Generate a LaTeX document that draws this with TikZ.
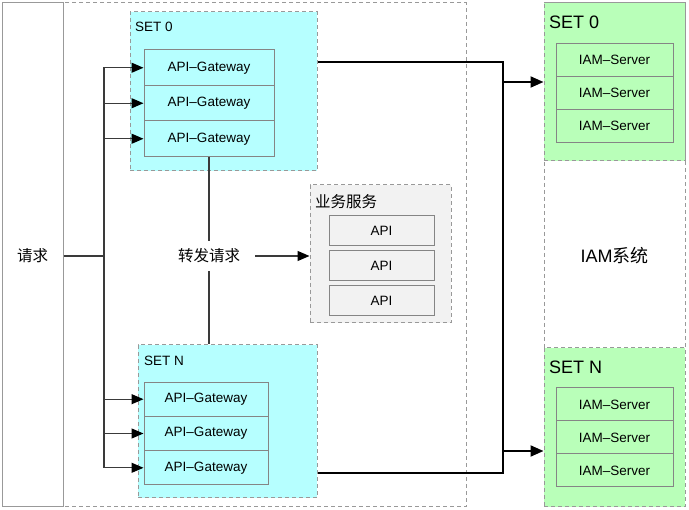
\documentclass[tikz,border=0pt]{standalone}
\usepackage{fontspec}
\setmainfont{Liberation Sans}
\newfontfamily\cjk{Noto Sans CJK SC}
\usetikzlibrary{arrows.meta}
\definecolor{cyanfill}{HTML}{B6FFFF}
\definecolor{greenfill}{HTML}{B9FFB9}
\definecolor{grayfill}{HTML}{F2F2F2}
\definecolor{dashgray}{HTML}{999999}
\definecolor{boxgray}{HTML}{858585}
\definecolor{linegray}{HTML}{3A3A3A}
\tikzset{
  dashbox/.style={draw=dashgray, line width=1pt, dash pattern=on 4pt off 3pt, inner sep=0pt},
  itembox/.style={draw=boxgray, line width=1pt, inner sep=0pt, font=\fontsize{13.5}{15}\selectfont},
  setlabel/.style={anchor=west, inner sep=0pt, font=\fontsize{13.5}{15}\selectfont},
  biglabel/.style={anchor=west, inner sep=0pt, font=\fontsize{18}{20}\selectfont},
  cjklabel/.style={inner sep=2pt, font=\fontsize{15.5}{17}\selectfont\cjk},
  gline/.style={draw=linegray, line width=1.2pt},
  garrow/.style={gline, -{Triangle[length=12pt,width=10pt,fill=black,color=black]}},
  bline/.style={draw=black, line width=2pt},
  barrow/.style={bline, -{Triangle[length=13pt,width=11pt]}},
}
\begin{document}
\begin{tikzpicture}[x=1pt,y=-1pt]
\useasboundingbox (0,0) rectangle (689,510);
% outer frame
\node[dashbox, minimum width=464pt, minimum height=504pt] (outer) at (234,255) {};
% request box
\node[draw=dashgray, line width=1pt, inner sep=0pt, minimum width=61pt, minimum height=504pt] (req) at (32.5,255) {};
\node[cjklabel] (reqtxt) at (32.5,256) {请求};
% SET 0 gateways
\node[dashbox, fill=cyanfill, minimum width=187pt, minimum height=159pt] (set0) at (223.5,91.5) {};
\node[setlabel] (set0lbl) at (135,27) {SET 0};
\node[itembox, minimum width=130pt, minimum height=35.5pt] (g01) at (209,67.75) {API–Gateway};
\node[itembox, minimum width=130pt, minimum height=35.5pt] (g02) at (209,103.25) {API–Gateway};
\node[itembox, minimum width=130pt, minimum height=35.5pt] (g03) at (209,138.75) {API–Gateway};
% SET N gateways
\node[dashbox, fill=cyanfill, minimum width=179pt, minimum height=153pt] (setn) at (227.5,421.5) {};
\node[setlabel] (setnlbl) at (144,361) {SET N};
\node[itembox, minimum width=124pt, minimum height=34.3pt] (gn1) at (206,399.2) {API–Gateway};
\node[itembox, minimum width=124pt, minimum height=34.3pt] (gn2) at (206,433.5) {API–Gateway};
\node[itembox, minimum width=124pt, minimum height=34.3pt] (gn3) at (206,467.8) {API–Gateway};
% business services
\node[dashbox, fill=grayfill, minimum width=141pt, minimum height=138pt] (biz) at (380.5,254) {};
\node[anchor=west, inner sep=0pt, font=\fontsize{15.5}{17}\selectfont\cjk] (bizlbl) at (315,202) {业务服务};
\node[itembox, fill=grayfill, minimum width=105pt, minimum height=30pt] (api1) at (381.5,231) {API};
\node[itembox, fill=grayfill, minimum width=105pt, minimum height=30pt] (api2) at (381.5,266) {API};
\node[itembox, fill=grayfill, minimum width=105pt, minimum height=30pt] (api3) at (381.5,301) {API};
% forward label
\node[cjklabel, inner sep=0pt, minimum height=30pt, minimum width=92pt] (fwd) at (209,256) {转发请求};
% IAM system
\node[dashbox, fill=white, minimum width=141pt, minimum height=504pt] (iam) at (614.5,255) {};
\node[inner sep=0pt, font=\fontsize{18}{20}\selectfont] (iamlbl) at (614.5,256) {IAM{\cjk 系统}};
\node[dashbox, fill=greenfill, minimum width=141pt, minimum height=158pt] (iset0) at (614.5,82) {};
\node[biglabel] (iset0lbl) at (549,22) {SET 0};
\node[itembox, minimum width=117pt, minimum height=32.7pt] (s01) at (614.5,60.35) {IAM–Server};
\node[itembox, minimum width=117pt, minimum height=32.7pt] (s02) at (614.5,93.05) {IAM–Server};
\node[itembox, minimum width=117pt, minimum height=32.7pt] (s03) at (614.5,125.75) {IAM–Server};
\node[dashbox, fill=greenfill, minimum width=141pt, minimum height=159pt] (isetn) at (614.5,427.5) {};
\node[biglabel] (isetnlbl) at (549,367) {SET N};
\node[itembox, minimum width=117pt, minimum height=33pt] (sn1) at (614.5,404.5) {IAM–Server};
\node[itembox, minimum width=117pt, minimum height=33pt] (sn2) at (614.5,437.5) {IAM–Server};
\node[itembox, minimum width=117pt, minimum height=33pt] (sn3) at (614.5,470.5) {IAM–Server};
% request fan-out
\coordinate (split) at (104,256);
\draw[gline] (req.east |- split) -- (split);
\draw[garrow] (split) |- (g01.west);
\draw[garrow] (split) |- (g02.west);
\draw[garrow] (split) |- (g03.west);
\draw[garrow] (split) |- (gn1.west);
\draw[garrow] (split) |- (gn2.west);
\draw[garrow] (split) |- (gn3.west);
% forward
\draw[gline] (g03.south) -- (fwd.north);
\draw[gline] (fwd.south) -- (fwd.south |- setn.north);
\draw[garrow] (fwd.east) -- (fwd.east -| biz.west);
% to IAM
\coordinate (bus) at (503,62);
\coordinate (busn) at (503,473);
\draw[barrow] (set0.east |- bus) -- (bus) |- (isetn.west |- 0,451);
\draw[barrow] (setn.east |- busn) -- (busn) |- (iset0.west |- 0,82);
\end{tikzpicture}
\end{document}
